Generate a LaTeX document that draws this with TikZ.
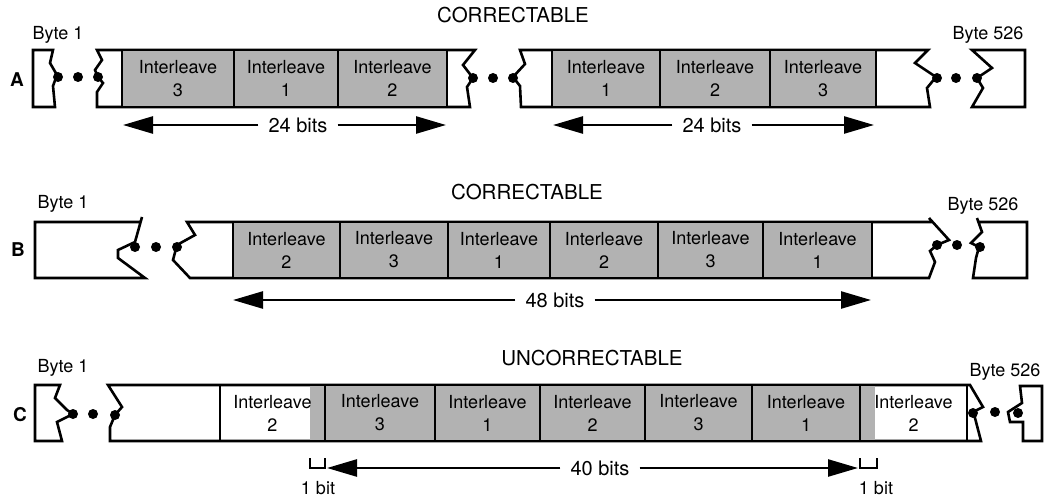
\documentclass[tikz,border=0pt]{standalone}
\usepackage{fontspec}
\setmainfont{TeX Gyre Heros}
\usetikzlibrary{arrows.meta}
\definecolor{halftone}{gray}{0.70}
\begin{document}
\begin{tikzpicture}[x=1pt,y=-1pt,
  rim/.style={line width=2.6pt, line join=miter},
  cellbox/.style={draw, line width=2.6pt, fill=halftone, inner sep=0pt,
    minimum height=56pt, align=center, font=\fontsize{18}{23}\selectfont},
  blankcell/.style={cellbox, fill=none},
  dot/.style={fill, circle, inner sep=0pt, minimum size=10pt},
  span/.style={line width=2.5pt, -{Triangle[length=30pt,width=17pt]}},
  lbl/.style={font=\fontsize{18}{20}\selectfont, inner sep=0pt},
  heading/.style={font=\fontsize{20.5}{22}\selectfont, inner sep=0pt},
  rowtag/.style={font=\bfseries\fontsize{19}{20}\selectfont, inner sep=0pt},
  bits/.style={font=\fontsize{20}{22}\selectfont, inner xsep=10pt, inner ysep=0pt},
  bracket/.style={line width=2.2pt}
]
\useasboundingbox (0,0) rectangle (1045,500);

%% ---------------- Row A ----------------
\node[heading] (tA) at (513,15) {CORRECTABLE};
\node[rowtag] (rA) at (17,80) {A};
\node[lbl] (b1A) at (58,35) {Byte 1};
\node[lbl] (b526A) at (988,35) {Byte 526};

% torn sector fragments
\draw[rim] (33,50) -- (53,50) -- (50,63) -- (57,75) -- (53,86) -- (55,107) -- (33,107) -- cycle;
\draw[rim] (97,50) -- (475,50) -- (463,65) -- (473,78) -- (467,87) -- (470,107)
  -- (97,107) -- (97,92) -- (103,83) -- (98,77) -- (95,70) -- (102,60) -- cycle;
\draw[rim] (520,50) -- (928,50) -- (915,63) -- (936,77) -- (927,88) -- (930,107)
  -- (521,107) -- (520,86) -- (513,77) -- (525,64) -- cycle;
\draw[rim] (972,50) -- (1025,50) -- (1025,107) -- (972,107) -- (983,88) -- (977,78) -- (992,68) -- cycle;

\node[cellbox, minimum width=112pt, minimum height=57pt] (a1) at (178,78.5) {Interleave\\3};
\node[cellbox, minimum width=104pt, minimum height=57pt] (a2) at (286,78.5) {Interleave\\1};
\node[cellbox, minimum width=109pt, minimum height=57pt] (a3) at (392.5,78.5) {Interleave\\2};
\node[cellbox, minimum width=108pt, minimum height=57pt] (a4) at (606,78.5) {Interleave\\1};
\node[cellbox, minimum width=110pt, minimum height=57pt] (a5) at (715,78.5) {Interleave\\2};
\node[cellbox, minimum width=106pt, minimum height=57pt] (a6) at (823,78.5) {Interleave\\3};

\node[dot] (dA1) at (58,77) {};
\node[dot] (dA2) at (78,77) {};
\node[dot] (dA3) at (98,77) {};
\node[dot] (dA4) at (473,78) {};
\node[dot] (dA5) at (493,78) {};
\node[dot] (dA6) at (513,78) {};
\node[dot] (dA7) at (937,78) {};
\node[dot] (dA8) at (956,78) {};
\node[dot] (dA9) at (977,78) {};

\coordinate (sA1) at (123,125);
\coordinate (sA2) at (446,125);
\node[bits] (wA1) at (298,125) {24 bits};
\draw[span] (wA1) -- (sA1);
\draw[span] (wA1) -- (sA2);
\coordinate (sA3) at (553,125);
\coordinate (sA4) at (874,125);
\node[bits] (wA2) at (712,125) {24 bits};
\draw[span] (wA2) -- (sA3);
\draw[span] (wA2) -- (sA4);

%% ---------------- Row B ----------------
\node[heading] (tB) at (527,192) {CORRECTABLE};
\node[rowtag] (rB) at (18,250) {B};
\node[lbl] (b1B) at (63,204) {Byte 1};
\node[lbl] (b526B) at (983,206) {Byte 526};

\draw[rim] (142,217) -- (135,242) -- (118,250) -- (118,258) -- (145,278) -- (35,278) -- (35,222) -- (141,222);
\draw[rim] (929,218) -- (949,240) -- (937,245) -- (930,251) -- (935,262) -- (929,278)
  -- (190,278) -- (173,260) -- (177,245) -- (195,235) -- (187,222) -- (932.6,222);
\draw[rim] (977,218) -- (982,232) -- (971,243) -- (979,247) -- (976,258) -- (973,278)
  -- (1027,278) -- (1027,222) -- (978.3,222);

\node[cellbox, minimum width=107pt] (b1) at (286.5,250) {Interleave\\2};
\node[cellbox, minimum width=108pt] (b2) at (394,250) {Interleave\\3};
\node[cellbox, minimum width=102pt] (b3) at (499,250) {Interleave\\1};
\node[cellbox, minimum width=108pt] (b4) at (604,250) {Interleave\\2};
\node[cellbox, minimum width=105pt] (b5) at (710.5,250) {Interleave\\3};
\node[cellbox, minimum width=109pt] (b6) at (817.5,250) {Interleave\\1};

\node[dot] (dB1) at (135,247) {};
\node[dot] (dB2) at (156,247) {};
\node[dot] (dB3) at (177,247) {};
\node[dot] (dB4) at (937,245) {};
\node[dot] (dB5) at (957,245) {};
\node[dot] (dB6) at (980,247) {};

\coordinate (sB1) at (233,300);
\coordinate (sB2) at (871,300);
\node[bits] (wB) at (555,300) {48 bits};
\draw[span] (wB) -- (sB1);
\draw[span] (wB) -- (sB2);

%% ---------------- Row C ----------------
\node[heading] (tC) at (592,358) {UNCORRECTABLE};
\node[rowtag] (rC) at (20,415) {C};
\node[lbl] (b1C) at (63,368) {Byte 1};
\node[lbl] (b526C) at (1005,372) {Byte 526};

\draw[rim] (60,385) -- (55,398) -- (67,410) -- (73,414) -- (57,422) -- (62,441) -- (35,441) -- (35,385) -- cycle;
\draw[rim] (108,385) -- (970,385) -- (983,407) -- (973,412) -- (975,418) -- (981,441)
  -- (110,441) -- (110,427) -- (115,415) -- (122,407) -- cycle;
\draw[rim] (1020,386) -- (1042,386) -- (1042,441) -- (1023,441) -- (1023,422) -- (1010,422)
  -- (1008,412) -- (1022,403) -- cycle;

% single bits of the neighbouring bytes that fall inside the burst
\fill[halftone] (310,385) rectangle (325,441);
\fill[halftone] (860,385) rectangle (875,441);

\node[blankcell, minimum width=105pt] (c1) at (272.5,413) {Interleave\\2};
\node[cellbox, minimum width=110pt] (c2) at (380,413) {Interleave\\3};
\node[cellbox, minimum width=105pt] (c3) at (487.5,413) {Interleave\\1};
\node[cellbox, minimum width=105pt] (c4) at (592.5,413) {Interleave\\2};
\node[cellbox, minimum width=107pt] (c5) at (698.5,413) {Interleave\\3};
\node[cellbox, minimum width=108pt] (c6) at (806,413) {Interleave\\1};
\node[blankcell, minimum width=107pt] (c7) at (913.5,413) {Interleave\\2};

\node[dot] (dC1) at (73,414) {};
\node[dot] (dC2) at (93,414) {};
\node[dot] (dC3) at (115,415) {};
\node[dot] (dC4) at (973,413) {};
\node[dot] (dC5) at (995,412) {};
\node[dot] (dC6) at (1018,413) {};

\coordinate (sC1) at (327,468);
\coordinate (sC2) at (858,468);
\node[bits] (wC) at (600,468) {40 bits};
\draw[span] (wC) -- (sC1);
\draw[span] (wC) -- (sC2);

\draw[bracket] (310,458) -- (310,468) -- (325,468) -- (325,458);
\draw[bracket] (860,458) -- (860,468) -- (877,468) -- (877,458);
\node[lbl] (oneL) at (318,488) {1 bit};
\node[lbl] (oneR) at (876,488) {1 bit};
\end{tikzpicture}
\end{document}
